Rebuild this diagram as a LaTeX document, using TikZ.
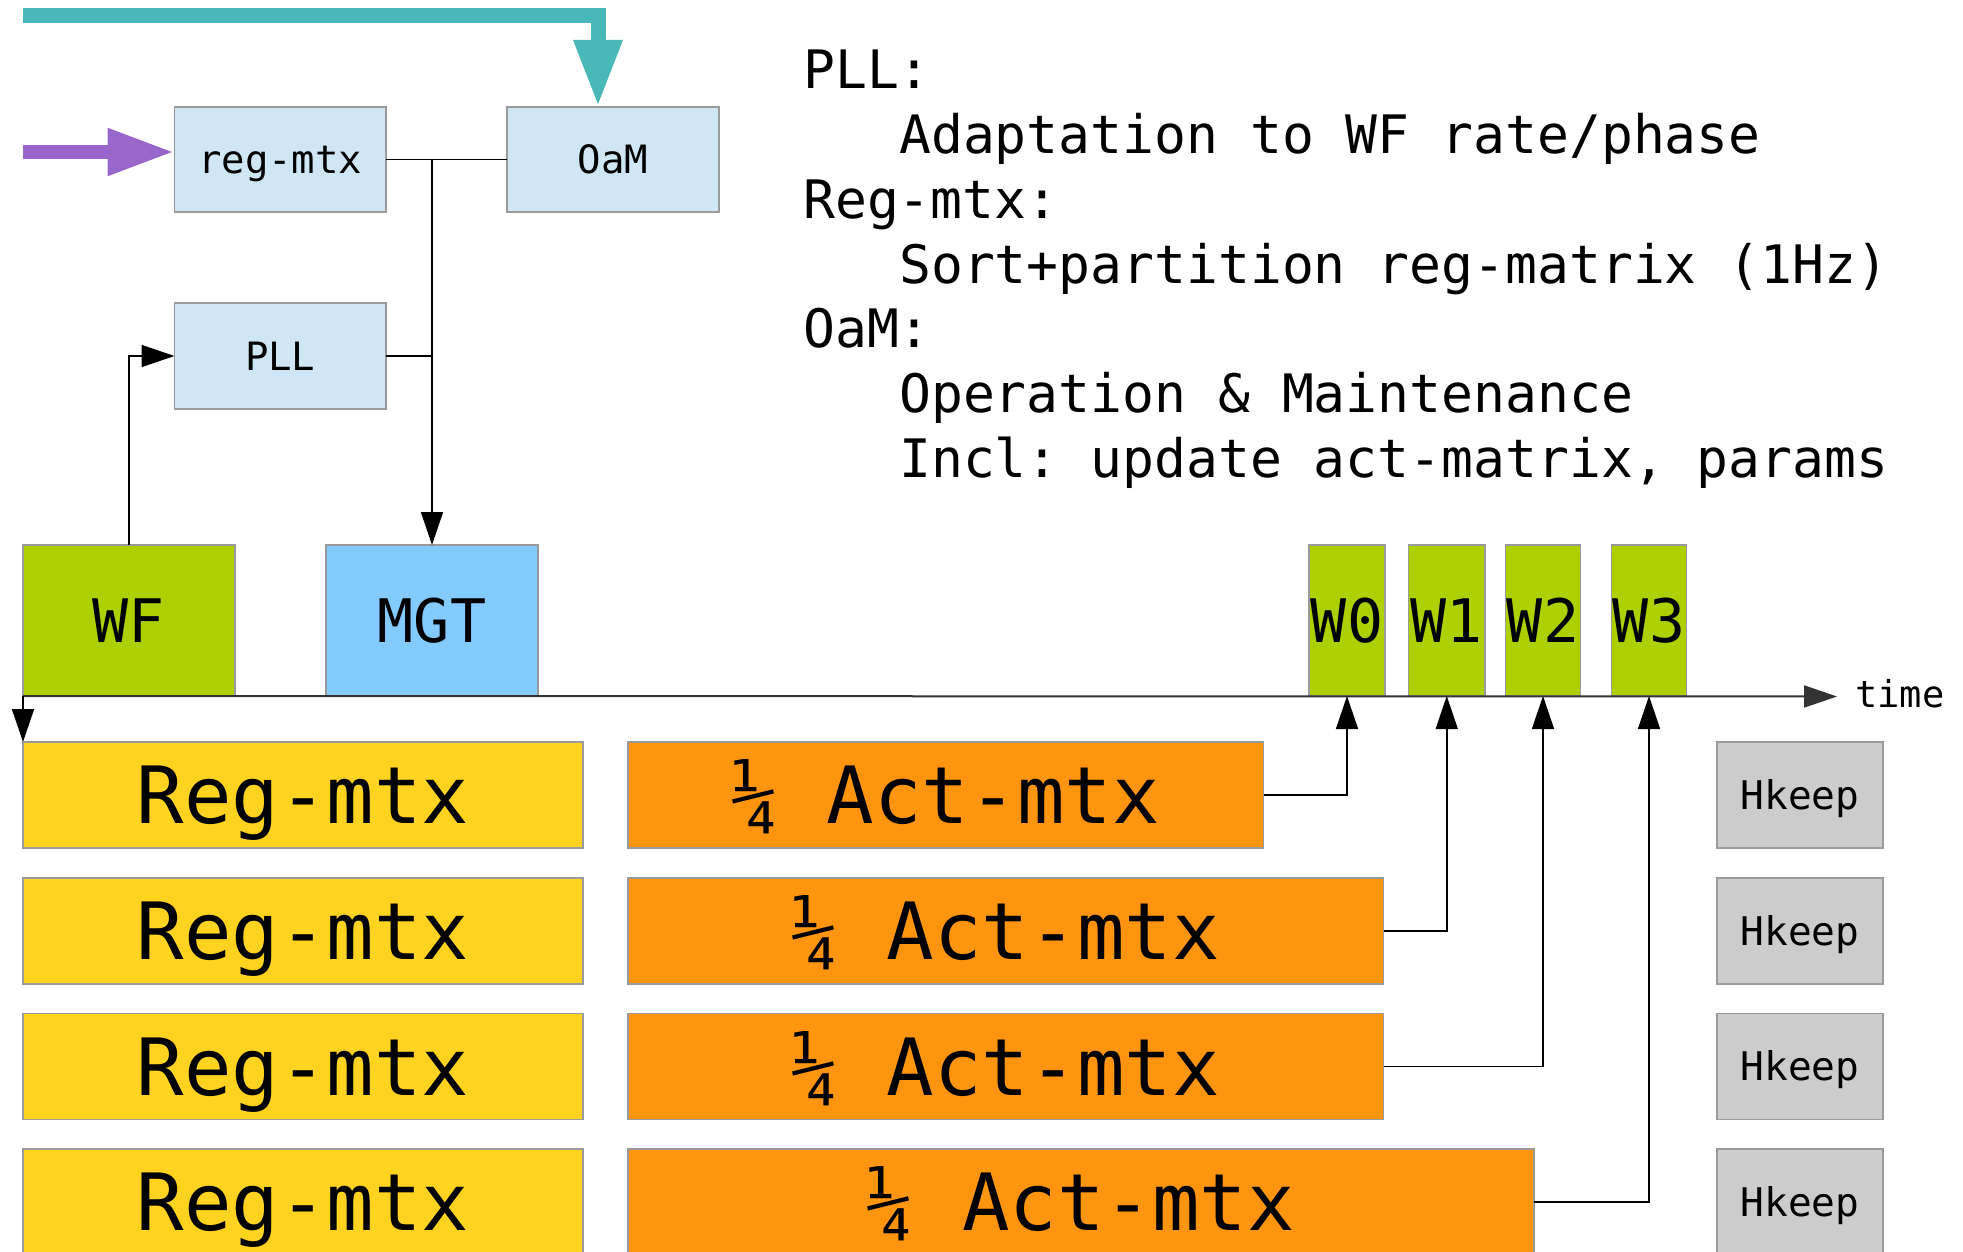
\documentclass[tikz,border=0pt]{standalone}
\usepackage{fontspec}
\setmonofont{DejaVu Sans Mono}
\usetikzlibrary{arrows.meta}
\definecolor{lblue}{HTML}{CFE7F5}
\definecolor{lgreen}{HTML}{AFD000}
\definecolor{mgtblue}{HTML}{83CAFF}
\definecolor{yel}{HTML}{FFD320}
\definecolor{orng}{HTML}{FF950E}
\definecolor{hgray}{HTML}{CCCCCC}
\definecolor{tealc}{HTML}{48B8B8}
\definecolor{purp}{HTML}{9966CC}
\definecolor{bord}{HTML}{9A9A9A}
\definecolor{axisc}{HTML}{333333}
\begin{document}
\begin{tikzpicture}[x=1pt,y=-1pt,
  box/.style={draw=bord, line width=1.5pt, inner sep=0pt, outer sep=0pt},
  smallbox/.style={box, fill=lblue, minimum width=211.5pt, minimum height=105pt,
     font=\fontsize{39}{45}\selectfont\ttfamily, text height=28.4pt, text depth=0pt},
  tallbox/.style={box, minimum height=151pt,
     font=\fontsize{60}{70}\selectfont\ttfamily, text height=43.7pt, text depth=0pt},
  rowbox/.style={box, minimum height=106pt,
     font=\fontsize{79}{90}\selectfont\ttfamily, text height=57.6pt, text depth=0pt},
  hkbox/.style={box, fill=hgray, minimum width=166pt, minimum height=106pt,
     font=\fontsize{39.5}{45}\selectfont\ttfamily, text height=28.8pt, text depth=0pt},
  conn/.style={draw=black, line width=1.5pt},
  arr/.style={-{Triangle[length=33pt,width=22pt]}},
  desc/.style={anchor=base west, inner sep=0pt, font=\fontsize{53}{64}\selectfont\ttfamily}
]
\clip (0,0) rectangle (1963,1252);
\fill[white] (0,0) rectangle (1963,1252);

% top small boxes
\node[smallbox] (regmtx) at (280.25,159.5) {reg-mtx};
\node[smallbox, minimum width=212pt] (OaM) at (613,159.5) {OaM};
\node[smallbox, minimum width=211.5pt, minimum height=106pt] (PLL) at (280.25,356) {PLL};

% timeline boxes
\node[tallbox, fill=lgreen, minimum width=212pt] (WF) at (129,620.5) {WF};
\node[tallbox, fill=mgtblue, minimum width=212pt] (MGT) at (432,620.5) {MGT};
\node[tallbox, fill=lgreen, minimum width=76pt] (W0) at (1347,620.5) {W0};
\node[tallbox, fill=lgreen, minimum width=76.5pt] (W1) at (1446.75,620.5) {W1};
\node[tallbox, fill=lgreen, minimum width=75pt] (W2) at (1543,620.5) {W2};
\node[tallbox, fill=lgreen, minimum width=75pt] (W3) at (1649,620.5) {W3};

% rows
\node[rowbox, fill=yel, minimum width=560pt] (reg1) at (303,795) {Reg-mtx};
\node[rowbox, fill=yel, minimum width=560pt] (reg2) at (303,931) {Reg-mtx};
\node[rowbox, fill=yel, minimum width=560pt] (reg3) at (303,1066.5) {Reg-mtx};
\node[rowbox, fill=yel, minimum width=560pt] (reg4) at (303,1202) {Reg-mtx};
\node[rowbox, fill=orng, minimum width=635.5pt] (act1) at (945.75,795) {¼ Act-mtx};
\node[rowbox, fill=orng, minimum width=755.5pt] (act2) at (1005.75,931) {¼ Act-mtx};
\node[rowbox, fill=orng, minimum width=755.5pt] (act3) at (1005.75,1066.5) {¼ Act-mtx};
\node[rowbox, fill=orng, minimum width=906pt] (act4) at (1081,1202) {¼ Act-mtx};
\node[hkbox] (hk1) at (1800,795) {Hkeep};
\node[hkbox] (hk2) at (1800,931) {Hkeep};
\node[hkbox] (hk3) at (1800,1066.5) {Hkeep};
\node[hkbox] (hk4) at (1800,1202) {Hkeep};

% thick input arrows
\coordinate (tealstart) at (23,15.5);
\coordinate (tealx) at (598,0);
\draw[tealc, line width=15pt, -{Triangle[length=67pt,width=45pt]}]
  (tealstart) -| (OaM.north -| tealx);
\coordinate (purpstart) at (23,152);
\draw[purp, line width=14pt, -{Triangle[length=67pt,width=44pt]}]
  (purpstart) -- (purpstart -| regmtx.west);

% connectors
\draw[conn] (regmtx.east) -- (OaM.west);
\draw[conn, arr] (regmtx.east -| MGT.north) -- (MGT.north);
\draw[conn] (PLL.east) -- (PLL.east -| MGT.north);
\draw[conn, arr] (WF.north) |- (PLL.west);

% time axis
\coordinate (tend) at (1837,696.5);
\draw[draw=axisc, line width=2pt, arr] (WF.south west) -- (tend);
\node[anchor=base west, inner sep=0pt, font=\fontsize{37}{42}\selectfont\ttfamily] (timelbl) at (1855,707) {time};
\draw[conn, arr] (WF.south west) -- (reg1.north west);

\draw[conn, arr] (act1.east) -| (W0.south);
\draw[conn, arr] (act2.east) -| (W1.south);
\draw[conn, arr] (act3.east) -| (W2.south);
\draw[conn, arr] (act4.east) -| (W3.south);

% description
\node[desc] (d1) at (803,89) {PLL:};
\node[desc] (d2) at (899,153.7) {Adaptation to WF rate/phase};
\node[desc] (d3) at (803,218.4) {Reg-mtx:};
\node[desc] (d4) at (899,283.1) {Sort+partition reg-matrix (1Hz)};
\node[desc] (d5) at (803,347.8) {OaM:};
\node[desc] (d6) at (899,412.5) {Operation \& Maintenance};
\node[desc] (d7) at (899,477.2) {Incl: update act-matrix, params};
\end{tikzpicture}
\end{document}
